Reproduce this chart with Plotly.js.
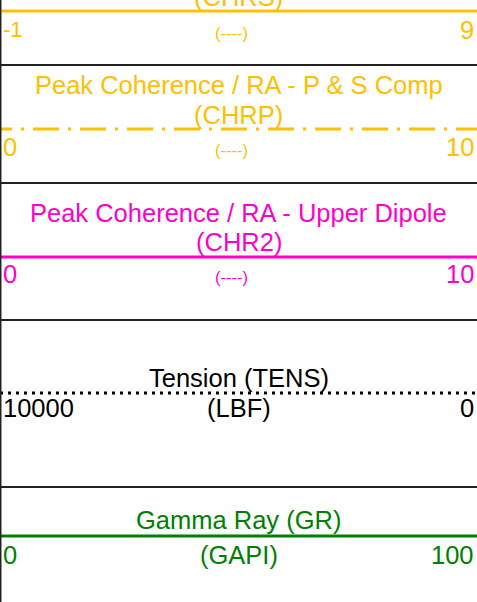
<!DOCTYPE html>
<html><head><meta charset="utf-8">
<script src="https://cdn.plot.ly/plotly-3.0.1.min.js"></script>
<style>html,body{margin:0;padding:0;background:#fff;}#chart{width:477px;height:602px;}</style>
</head><body><div id="chart"></div>
<script>
// ---- data ----
const curveMnemonics = ['CHRS', 'CHRP', 'CHR2', 'TENS', 'GR'];
const curveTitles = ['', 'Peak Coherence / RA - P & S Comp', 'Peak Coherence / RA - Upper Dipole', 'Tension', 'Gamma Ray'];
const curveUnits = ['----', '----', '----', 'LBF', 'GAPI'];
const scaleLeft = [-1, 0, 0, 10000, 0];
const scaleRight = [9, 10, 10, 0, 100];

// ---- styles / layout ----
const H = 602;
const colors = ['#FFC000', '#FFC000', '#FF00CC', '#000000', '#008000'];
const dashes = ['solid', '12px,9px,3px,9px,14px,0px', 'solid', '3px,5px', 'solid'];
const lineW = [3, 3, 3, 3, 3];
const twoLineTitle = [true, true, true, false, false];
const lineY = [11, 129, 257, 393, 536];
const title1Y = [-30, 85, 213, 378, 520];
const title2Y = [-3, 115, 242, null, null];
const labelY = [30, 147, 274, 408, 555];
const BIG = 25.5;
const leftLabelSize = [22, BIG, BIG, BIG, BIG];
const unitSize = [16.5, 16.5, 16.5, BIG, BIG];
const unitShift = [-7, -7, -7, 0, 0];
const separatorY = [65, 183, 320, 487];
const FONT = 'Liberation Sans, Arial, sans-serif';
const py = (p) => 1 - p / H;

const traces = [];
const annotations = [];
const layout = {
  width: 477, height: H,
  margin: {l: 0, r: 0, t: 0, b: 0},
  paper_bgcolor: '#fff', plot_bgcolor: '#fff',
  showlegend: false,
  yaxis: {range: [H, 0], visible: false, fixedrange: true, domain: [0, 1]},
  shapes: [],
  annotations: annotations
};

curveMnemonics.forEach((m, i) => {
  const ax = i === 0 ? 'x' : 'x' + (i + 1);
  const axKey = i === 0 ? 'xaxis' : 'xaxis' + (i + 1);
  layout[axKey] = {range: [scaleLeft[i], scaleRight[i]], visible: false, fixedrange: true, domain: [0, 1], anchor: 'y'};
  if (i > 0) layout[axKey].overlaying = 'x';
  traces.push({
    type: 'scatter', mode: 'lines', xaxis: ax, yaxis: 'y',
    x: [scaleLeft[i], scaleRight[i]], y: [lineY[i], lineY[i]],
    line: {color: colors[i], width: lineW[i], dash: dashes[i]},
    hoverinfo: 'skip', cliponaxis: false
  });
  const f = (s) => ({family: FONT, size: s, color: colors[i]});
  const ann = (o) => annotations.push(Object.assign({showarrow: false, yref: 'paper', yanchor: 'middle'}, o));
  if (twoLineTitle[i]) {
    if (curveTitles[i]) ann({xref: 'paper', x: 0.5, y: py(title1Y[i]), text: curveTitles[i], xanchor: 'center', font: f(BIG)});
    ann({xref: 'paper', x: 0.5, y: py(title2Y[i]), text: '(' + m + ')', xanchor: 'center', font: f(BIG)});
  } else {
    ann({xref: 'paper', x: 0.5, y: py(title1Y[i]), text: curveTitles[i] + ' (' + m + ')', xanchor: 'center', font: f(BIG)});
  }
  ann({xref: ax, x: scaleLeft[i], y: py(labelY[i]), text: String(scaleLeft[i]), xanchor: 'left', xshift: 1, font: f(leftLabelSize[i])});
  ann({xref: ax, x: scaleRight[i], y: py(labelY[i]), text: String(scaleRight[i]), xanchor: 'right', xshift: -1, font: f(BIG)});
  ann({xref: 'paper', x: 0.5, y: py(labelY[i] + (unitSize[i] < 20 ? 3 : 0)), text: '(' + curveUnits[i] + ')', xanchor: 'center', xshift: unitShift[i], font: f(unitSize[i])});
});

separatorY.forEach(y => {
  layout.shapes.push({type: 'line', xref: 'paper', yref: 'y', x0: 0, x1: 1, y0: y, y1: y, line: {color: '#222', width: 2}});
});
layout.shapes.push({type: 'line', xref: 'paper', yref: 'paper', x0: 0.001, x1: 0.001, y0: 0, y1: 1, line: {color: '#222', width: 2}});

Plotly.newPlot('chart', traces, layout, {displayModeBar: false, staticPlot: true});
</script>
</body></html>
